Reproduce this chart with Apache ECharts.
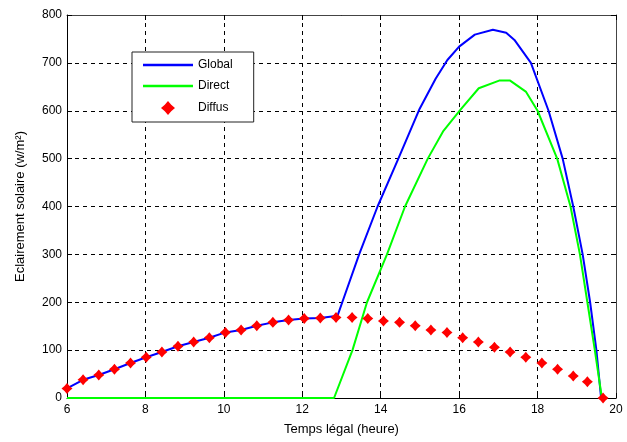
<!DOCTYPE html>
<html>
<head>
<meta charset="utf-8">
<script src="https://cdn.jsdelivr.net/npm/echarts@6/dist/echarts.min.js"></script>
<style>html,body{margin:0;padding:0;background:#fff;}#c{width:627px;height:442px;}</style>
</head>
<body>
<div id="c"></div>
<script>
// X tick labels / axis ranges
var xTicks = [6, 8, 10, 12, 14, 16, 18, 20];
var yTicks = [0, 100, 200, 300, 400, 500, 600, 700, 800];

// Diffus (red markers)
var diffusHours  = [6.00,6.41,6.81,7.21,7.62,8.02,8.42,8.83,9.23,9.63,10.04,10.44,10.84,11.25,11.65,12.05,12.46,12.86,13.27,13.67,14.07,14.48,14.88,15.28,15.69,16.09,16.49,16.90,17.30,17.70,18.11,18.51,18.91,19.27,19.67];
var diffusValues = [20,38,48,60,73,85,96,108,117,126,137,142,151,158,163,166,167,168,168,166,161,158,151,142,137,126,117,106,96,85,73,60,46,34,0];

// Global (blue line)
var globalHours  = [6.00,6.41,6.81,7.21,7.62,8.02,8.42,8.83,9.23,9.63,10.04,10.44,10.84,11.25,11.65,12.05,12.46,12.90,13.02,13.45,13.92,14.45,14.98,15.40,15.70,16.00,16.40,16.86,17.20,17.41,17.83,18.28,18.64,18.91,19.15,19.34,19.50,19.62];
var globalValues = [20,38,48,60,73,85,96,108,117,126,137,142,151,158,163,166,167,172,200,300,400,500,602,667,706,734,759,769,763,748,700,600,500,400,300,200,100,0];

// Direct (green line)
var directHours  = [6.00,12.81,13.28,13.65,14.16,14.62,15.20,15.60,16.03,16.50,17.02,17.30,17.70,18.00,18.50,18.84,19.08,19.27,19.46,19.64];
var directValues = [0,0,100,200,300,400,500,558,602,647,663,663,640,600,500,400,300,200,100,0];

function pairs(xs, ys){ return xs.map(function(x,i){ return [x, ys[i]]; }); }

var FONT = 'Liberation Sans, Arial, sans-serif';
var starPath = 'path://M0,-5 L2.3,-2.3 L5,0 L2.3,2.3 L0,5 L-2.3,2.3 L-5,0 L-2.3,-2.3 Z';
var linePath = 'path://M0,0 L50,0 L50,2.5 L0,2.5 Z';

var chart = echarts.init(document.getElementById('c'), null, {renderer:'canvas'});
chart.setOption({
  animation: false,
  backgroundColor: '#fff',
  textStyle: {fontFamily: FONT},
  grid: {left: 67, right: 11, top: 15, bottom: 44, containLabel: false},
  legend: {
    orient: 'vertical', left: 132, top: 52,
    itemWidth: 50, itemHeight: 14, itemGap: 9,
    padding: [7, 21, 7, 11],
    symbolKeepAspect: true,
    backgroundColor: '#fff', borderColor: '#222', borderWidth: 1,
    textStyle: {fontFamily: FONT, fontSize: 12, color: '#000'},
    data: [
      {name: 'Global', icon: linePath},
      {name: 'Direct', icon: linePath},
      {name: 'Diffus', icon: starPath}
    ]
  },
  xAxis: [{
    type: 'value', min: 6, max: 20, interval: 2,
    name: 'Temps légal (heure)', nameLocation: 'middle', nameGap: 25,
    nameTextStyle: {fontFamily: FONT, fontSize: 13, color: '#000'},
    axisLine: {show: true, onZero: false, lineStyle: {color: '#000', width: 1}},
    axisTick: {show: true, inside: true, length: 5, lineStyle: {color: '#000'}},
    axisLabel: {color: '#000', fontSize: 12, margin: 6, fontFamily: FONT},
    splitLine: {show: true, lineStyle: {color: '#000', type: [4, 4], width: 1}}
  }, {
    type: 'value', min: 6, max: 20, interval: 2, position: 'top',
    axisLine: {show: true, onZero: false, lineStyle: {color: '#444', width: 1}},
    axisTick: {show: true, inside: true, length: 5, lineStyle: {color: '#000'}},
    axisLabel: {show: false}, splitLine: {show: false}
  }],
  yAxis: [{
    type: 'value', min: 0, max: 800, interval: 100,
    name: 'Eclairement solaire (w/m²)', nameLocation: 'middle', nameGap: 40,
    nameTextStyle: {fontFamily: FONT, fontSize: 13, color: '#000'},
    axisLine: {show: true, onZero: false, lineStyle: {color: '#000', width: 1}},
    axisTick: {show: true, inside: true, length: 5, lineStyle: {color: '#000'}},
    axisLabel: {color: '#000', fontSize: 12, margin: 5, fontFamily: FONT},
    splitLine: {show: true, lineStyle: {color: '#000', type: [4, 4], width: 1}}
  }, {
    type: 'value', min: 0, max: 800, interval: 100, position: 'right',
    axisLine: {show: true, onZero: false, lineStyle: {color: '#444', width: 1}},
    axisTick: {show: true, inside: true, length: 5, lineStyle: {color: '#000'}},
    axisLabel: {show: false}, splitLine: {show: false}
  }],
  series: [{
    name: 'Global', type: 'line', symbol: 'none', smooth: false,
    lineStyle: {color: '#0000ff', width: 2}, itemStyle: {color: '#0000ff'},
    data: pairs(globalHours, globalValues), z: 3
  }, {
    name: 'Direct', type: 'line', symbol: 'none', smooth: false,
    lineStyle: {color: '#00ff00', width: 2}, itemStyle: {color: '#00ff00'},
    data: pairs(directHours, directValues), z: 4
  }, {
    name: 'Diffus', type: 'scatter', symbol: starPath, symbolSize: 11,
    itemStyle: {color: '#ff0000', opacity: 1},
    data: pairs(diffusHours, diffusValues), z: 5
  }]
});
</script>
</body>
</html>
